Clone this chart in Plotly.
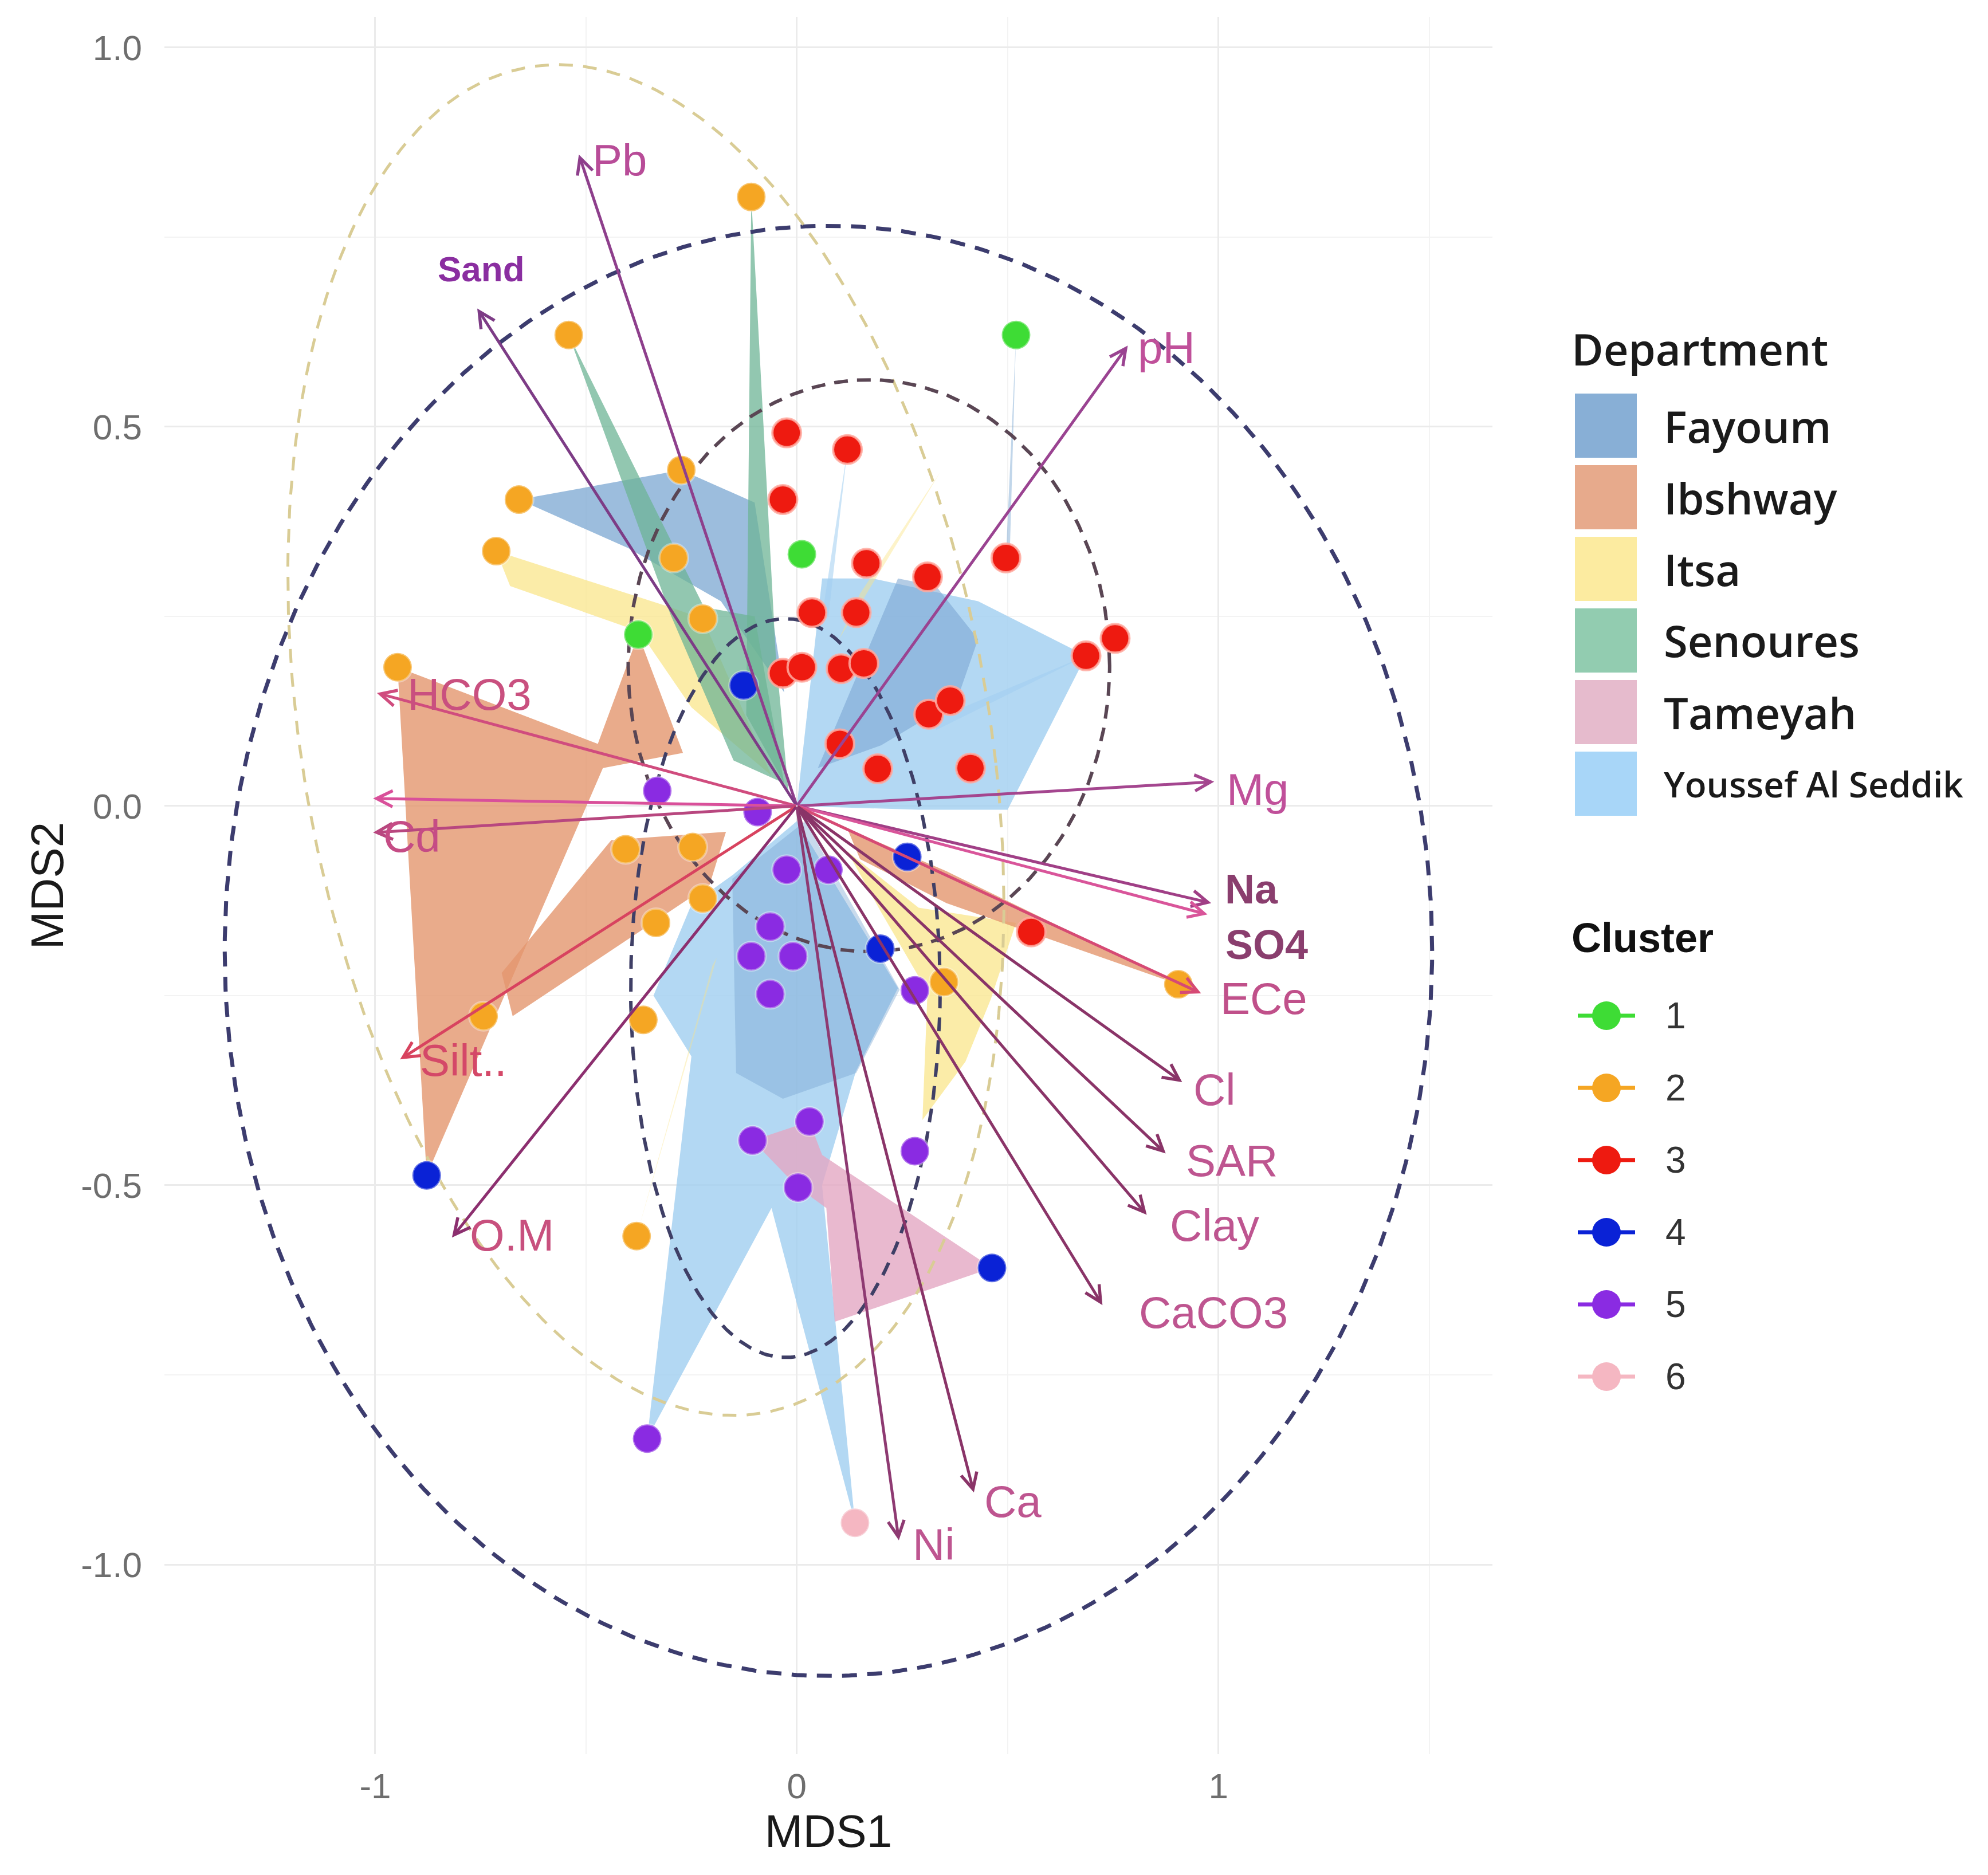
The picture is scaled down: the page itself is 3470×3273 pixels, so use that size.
import numpy as np
import plotly.graph_objects as go

# ---------------- data ----------------
clusters = ["1", "2", "3", "4", "5", "6"]
c1_x = [0.520, 0.012, -0.376]
c1_y = [0.621, 0.332, 0.226]
c2_x = [-0.108, -0.541, -0.274, -0.659, -0.713, -0.292, -0.223, -0.947, -0.406, -0.247,
        -0.223, -0.334, -0.364, -0.743, -0.380, 0.349, 0.905]
c2_y = [0.803, 0.621, 0.443, 0.404, 0.336, 0.327, 0.247, 0.183, -0.057, -0.054,
        -0.122, -0.154, -0.282, -0.277, -0.567, -0.232, -0.235]
c3_x = [-0.024, 0.120, -0.033, 0.165, 0.310, 0.496, 0.036, 0.141, -0.033, 0.012,
        0.105, 0.159, 0.686, 0.755, 0.313, 0.364, 0.102, 0.192, 0.412, 0.556]
c3_y = [0.492, 0.470, 0.404, 0.320, 0.302, 0.327, 0.255, 0.255, 0.175, 0.183,
        0.181, 0.188, 0.198, 0.221, 0.121, 0.139, 0.082, 0.049, 0.050, -0.166]
c4_x = [-0.126, 0.262, 0.198, -0.878, 0.463]
c4_y = [0.159, -0.067, -0.188, -0.487, -0.609]
c5_x = [-0.331, -0.093, -0.024, 0.075, -0.063, -0.108, -0.009, -0.063, 0.280, 0.030,
        -0.105, 0.003, 0.280, -0.355]
c5_y = [0.020, -0.008, -0.084, -0.084, -0.159, -0.198, -0.198, -0.248, -0.243, -0.416,
        -0.441, -0.503, -0.455, -0.834]
c6_x = [0.138]
c6_y = [-0.945]

departments = ["Fayoum", "Ibshway", "Itsa", "Senoures", "Tameyah", "Youssef Al Seddik"]

# department polygons (vertices in MDS space)
fay_polys = [
    ([-0.659, -0.274, -0.10, -0.03, -0.18, -0.40], [0.404, 0.443, 0.40, 0.15, 0.27, 0.34]),
    ([0.05, 0.24, 0.33, 0.43, 0.38, 0.20], [0.05, 0.30, 0.29, 0.22, 0.14, 0.08]),
    ([-0.153, 0.02, 0.244, 0.141, -0.033, -0.144], [-0.096, -0.02, -0.242, -0.352, -0.386, -0.352]),
    ([0.52, 0.496, 0.505], [0.621, 0.327, 0.33]),
]
ibs_polys = [
    ([-0.947, -0.472, -0.376, -0.27, -0.46, -0.878], [0.183, 0.082, 0.226, 0.07, 0.05, -0.487]),
    ([-0.44, -0.168, -0.207, -0.674, -0.70], [-0.045, -0.034, -0.104, -0.277, -0.22]),
    ([0.12, 0.355, 0.905, 0.355, 0.15], [-0.03, -0.086, -0.235, -0.128, -0.07]),
]
its_polys = [
    ([-0.713, -0.30, -0.223, -0.06, -0.25, -0.373, -0.68], [0.336, 0.262, 0.247, 0.04, 0.13, 0.23, 0.29]),
    ([0.12, 0.289, 0.52, 0.46, 0.40, 0.298, 0.31, 0.20], [-0.06, -0.134, -0.154, -0.255, -0.337, -0.414, -0.245, -0.14]),
    ([0.10, 0.34, 0.15], [0.22, 0.44, 0.28]),
    ([-0.38, -0.20, -0.19], [-0.567, -0.21, -0.20]),
]
sen_polys = [
    ([-0.108, -0.05, -0.02, -0.12], [0.803, 0.20, 0.02, 0.12]),
    ([-0.541, -0.22, -0.10, -0.03, -0.15, -0.30], [0.621, 0.262, 0.25, 0.03, 0.06, 0.253]),
]
tam_polys = [
    ([-0.105, 0.030, 0.06, 0.463, 0.09, 0.07, 0.003], [-0.441, -0.416, -0.46, -0.609, -0.68, -0.53, -0.503]),
]
you_polys = [
    ([0.0, 0.06, 0.18, 0.43, 0.686, 0.50, 0.29], [0.0, 0.30, 0.30, 0.27, 0.198, -0.005, -0.005]),
    ([-0.355, -0.25, -0.34, -0.25, -0.15, 0.0, 0.24, 0.14, 0.06, 0.138, -0.06],
     [-0.834, -0.33, -0.25, -0.13, -0.09, -0.02, -0.24, -0.35, -0.50, -0.945, -0.53]),
    ([0.120, 0.06, 0.075], [0.470, 0.25, 0.25]),
    ([0.686, 0.33, 0.33], [0.198, 0.10, 0.115]),
]

# fitted vectors (envfit arrows)
vec_names = ["Pb", "Sand", "pH", "HCO3", "", "Cd", "Silt..", "O.M", "Mg", "Na", "SO4",
             "ECe", "Cl", "SAR", "Clay", "CaCO3", "Ca", "Ni"]
vec_x = [-0.517, -0.758, 0.785, -0.996, -1.005, -1.005, -0.941, -0.818, 0.990, 0.983, 0.974,
         0.959, 0.914, 0.875, 0.830, 0.725, 0.420, 0.242]
vec_y = [0.859, 0.656, 0.607, 0.149, 0.010, -0.035, -0.334, -0.569, 0.032, -0.128, -0.143,
         -0.247, -0.364, -0.458, -0.539, -0.658, -0.905, -0.968]

# confidence ellipses: centre, conjugate semi-axes
ell_cx = [0.075, -0.358, 0.171, -0.027]
ell_cy = [-0.191, 0.087, 0.185, -0.240]
ell_ux = [1.432, 0.83, 0.571, 0.367]
ell_uy = [0.0, -0.03, 0.0, 0.0]
ell_vx = [0.0, -0.18, 0.0, 0.0]
ell_vy = [0.956, 0.89, 0.377, 0.487]

x_ticks = [-1, 0, 1]
x_ticktext = ["-1", "0", "1"]
y_ticks = [-1.0, -0.5, 0.0, 0.5, 1.0]
y_ticktext = ["-1.0", "-0.5", "0.0", "0.5", "1.0"]

# ---------------- styles ----------------
W, H = 3470, 3273
ML, MR, MT, MB = 279, 873, 22, 219
PW, PH = W - ML - MR, H - MT - MB

cluster_cols = ["#3EDC35", "#F5A623", "#EE1A10", "#0A22D6", "#8A2BE2", "#F5B7C2"]
dept_fill = ["rgba(118,163,208,0.72)", "rgba(228,150,110,0.80)", "rgba(250,228,135,0.72)",
             "rgba(110,180,150,0.75)", "rgba(228,168,195,0.80)", "rgba(160,206,240,0.80)"]
fay_alpha = [0.72, 0.55, 0.40, 0.45]
you_alpha = [0.80, 0.80, 0.55, 0.55]
its_alpha = [0.72, 0.72, 0.45, 0.40]
dept_swatch = ["#88AFD6", "#E7AA8C", "#FCEBA0", "#92CCB0", "#E6BBCD", "#A8D6F8"]
ell_cols = ["#3C3C6E", "#D9CC95", "#5A4654", "#3F3F66"]
ell_w = [7, 5, 6, 6]
ell_dash = ["26px,18px", "24px,18px", "24px,16px", "24px,16px"]

arrow_cols = ["#8E3F8C", "#7D3C86", "#9A4391", "#D04C7E", "#D9509A", "#B8477F", "#D8435F",
              "#8C2F6F", "#A4468F", "#A03F86", "#D9559A", "#D64A74", "#8A3468", "#8A3468",
              "#8A3468", "#8A3468", "#8A3468", "#8E3A72"]
label_cols = ["#B84C98", "#8A2EA0", "#C0509A", "#C9507F", "#C2539A", "#C54C85", "#D44868",
              "#C8507E", "#C0509A", "#8A3E6E", "#8A3E6E", "#C0508A", "#BE5590", "#BE5590",
              "#BE5590", "#BE5590", "#BE5590", "#BE5590"]
label_bold = [False, True, False, False, False, False, False, False, False, True, True,
              False, False, False, False, False, False, False]
label_shift = [(22, -10), (7, 69), (16, -4), (51, -2), (0, 0), (16, -7), (33, -2), (29, 4),
               (20, -13), (22, 24), (29, -53), (31, -9), (18, -13), (33, -13), (38, -18),
               (62, -13), (16, -16), (22, -7)]

SANS = "Liberation Sans, Arial, sans-serif"
LEG = "Open Sans, Lato, sans-serif"


def px_to_paper_x(px):
    return (px - ML) / PW


def px_to_paper_y(py):
    return (H - MB - py) / PH


fig = go.Figure()


# department polygons
def add_polys(polys, colors):
    for (px_, py_), col in zip(polys, colors):
        fig.add_trace(go.Scatter(x=px_ + [px_[0]], y=py_ + [py_[0]], mode="lines", fill="toself",
                                 fillcolor=col, line=dict(width=0, color="rgba(0,0,0,0)"),
                                 hoverinfo="skip", showlegend=False))


add_polys(you_polys, ["rgba(160,206,240,%.2f)" % a for a in you_alpha])
add_polys(fay_polys, ["rgba(118,163,208,%.2f)" % a for a in fay_alpha])
add_polys(its_polys, ["rgba(250,228,135,%.2f)" % a for a in its_alpha])
add_polys(sen_polys, [dept_fill[3]] * len(sen_polys))
add_polys(ibs_polys, [dept_fill[1]] * len(ibs_polys))
add_polys(tam_polys, [dept_fill[4]] * len(tam_polys))

# ellipses
t = np.linspace(0, 2 * np.pi, 361)
for i in range(len(ell_cx)):
    ex = ell_cx[i] + ell_ux[i] * np.cos(t) + ell_vx[i] * np.sin(t)
    ey = ell_cy[i] + ell_uy[i] * np.cos(t) + ell_vy[i] * np.sin(t)
    fig.add_trace(go.Scatter(x=ex, y=ey, mode="lines",
                             line=dict(color=ell_cols[i], width=ell_w[i], dash=ell_dash[i]),
                             hoverinfo="skip", showlegend=False))

# points
for cx, cy, col in zip([c1_x, c2_x, c3_x, c4_x, c5_x, c6_x], [c1_y, c2_y, c3_y, c4_y, c5_y, c6_y],
                       cluster_cols):
    lc = "rgba(255,170,160,0.85)" if col == "#EE1A10" else "rgba(255,255,255,0.35)"
    fig.add_trace(go.Scatter(x=cx, y=cy, mode="markers",
                             marker=dict(size=50, color=col, line=dict(width=4, color=lc)),
                             hoverinfo="skip", showlegend=False))

annotations = []
# arrows and labels
for i, name in enumerate(vec_names):
    annotations.append(dict(x=vec_x[i], y=vec_y[i], ax=0, ay=0, xref="x", yref="y",
                            axref="x", ayref="y", text="", showarrow=True,
                            arrowhead=5, arrowsize=1.1, arrowwidth=5,
                            arrowcolor=arrow_cols[i], standoff=0))
    if name:
        dx, dy = label_shift[i]
        annotations.append(dict(x=vec_x[i], y=vec_y[i], xref="x", yref="y", text=name,
                                showarrow=False, xanchor="center" if name == "Sand" else "left",
                                yanchor="middle", xshift=dx, yshift=dy,
                                font=dict(family=SANS, size=62 if name == "Sand" else (72 if label_bold[i] else 78),
                                          color=label_cols[i], weight="bold" if label_bold[i] else "normal")))

shapes = []
# ---- Department legend ----
annotations.append(dict(x=px_to_paper_x(2733), y=px_to_paper_y(600), xref="paper", yref="paper",
                        text="Department", showarrow=False, xanchor="left", yanchor="middle",
                        font=dict(family=LEG, size=76, color="#1a1a1a", weight=600)))
for i, d in enumerate(departments):
    y0 = 679 + i * 125
    shapes.append(dict(type="rect", xref="paper", yref="paper",
                       x0=px_to_paper_x(2741), x1=px_to_paper_x(2849),
                       y0=px_to_paper_y(y0), y1=px_to_paper_y(y0 + 112),
                       fillcolor=dept_swatch[i], line=dict(width=0)))
    annotations.append(dict(x=px_to_paper_x(2894), y=px_to_paper_y(y0 + 56), xref="paper", yref="paper",
                            text=d, showarrow=False, xanchor="left", yanchor="middle",
                            font=dict(family=LEG, size=62 if len(d) > 10 else 76, color="#1a1a1a",
                                      weight=600)))

# ---- Cluster legend ----
annotations.append(dict(x=px_to_paper_x(2733), y=px_to_paper_y(1629), xref="paper", yref="paper",
                        text="Cluster", showarrow=False, xanchor="left", yanchor="middle",
                        font=dict(family=SANS, size=72, color="#111111", weight="bold")))
for i, c in enumerate(clusters):
    yc = 1765 + i * 126
    shapes.append(dict(type="line", xref="paper", yref="paper",
                       x0=px_to_paper_x(2746), x1=px_to_paper_x(2846),
                       y0=px_to_paper_y(yc), y1=px_to_paper_y(yc),
                       line=dict(color=cluster_cols[i], width=7)))
    shapes.append(dict(type="circle", xref="paper", yref="paper", xsizemode="pixel", ysizemode="pixel",
                       xanchor=px_to_paper_x(2796), yanchor=px_to_paper_y(yc),
                       x0=-25, x1=25, y0=-25, y1=25,
                       fillcolor=cluster_cols[i], line=dict(width=0)))
    annotations.append(dict(x=px_to_paper_x(2897), y=px_to_paper_y(yc), xref="paper", yref="paper",
                            text=c, showarrow=False, xanchor="left", yanchor="middle",
                            font=dict(family=SANS, size=64, color="#333333")))

fig.update_layout(
    width=W, height=H,
    margin=dict(l=ML, r=MR, t=MT, b=MB, autoexpand=False),
    paper_bgcolor="white", plot_bgcolor="white",
    showlegend=False,
    annotations=annotations,
    shapes=shapes,
    xaxis=dict(range=[-1.50, 1.65], tickvals=x_ticks, ticktext=x_ticktext,
               showgrid=True, gridcolor="#EBEBEB", gridwidth=3, zeroline=False, showline=False,
               ticks="", ticklabelstandoff=14,
               tickfont=dict(family=SANS, size=62, color="#6E6E6E"),
               minor=dict(dtick=0.5, tick0=0.5, showgrid=True, gridcolor="#F3F3F3", gridwidth=2),
               title=dict(text="MDS1", standoff=6, font=dict(family=SANS, size=80, color="#1a1a1a"))),
    yaxis=dict(range=[-1.25, 1.04], tickvals=y_ticks, ticktext=y_ticktext,
               showgrid=True, gridcolor="#EBEBEB", gridwidth=3, zeroline=False, showline=False,
               ticks="", ticklabelstandoff=38,
               tickfont=dict(family=SANS, size=62, color="#6E6E6E"),
               minor=dict(dtick=0.25, tick0=0.25, showgrid=True, gridcolor="#F3F3F3", gridwidth=2),
               title=dict(text="MDS2", standoff=4, font=dict(family=SANS, size=80, color="#1a1a1a"))),
)

fig.write_html("out.html")
